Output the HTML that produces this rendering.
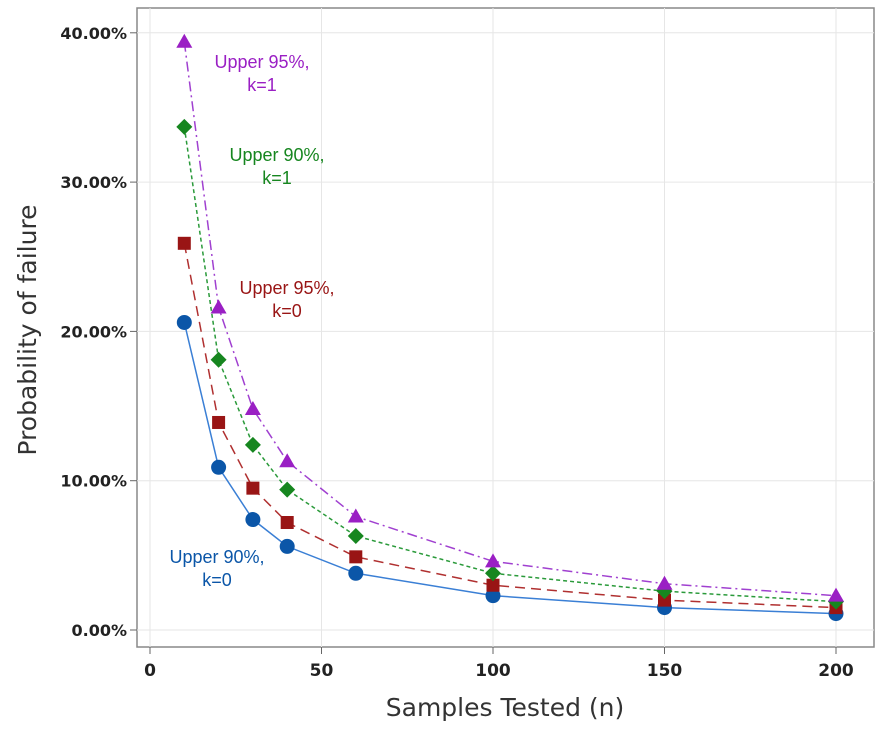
<!DOCTYPE html>
<html><head><meta charset="utf-8"><style>
body{margin:0;background:#fff;}
svg text{font-family:"DejaVu Sans","Liberation Sans",sans-serif;}
svg text.ann{font-family:"Liberation Sans",sans-serif;}
</style></head><body>
<svg id="c" width="891" height="731"></svg>
<script>
const xs=[10,20,30,40,60,100,150,200];
const s90k0=[20.6,10.9,7.4,5.6,3.8,2.3,1.5,1.1];
const s95k0=[25.9,13.9,9.5,7.2,4.9,3.0,2.0,1.5];
const s90k1=[33.7,18.1,12.4,9.4,6.3,3.8,2.6,1.9];
const s95k1=[39.4,21.6,14.8,11.3,7.6,4.6,3.1,2.3];
const xTicks=[0,50,100,150,200];
const yTicks=[0,10,20,30,40];
const yLabels=["0.00%","10.00%","20.00%","30.00%","40.00%"];
const svg=document.getElementById('c');const NS="http://www.w3.org/2000/svg";
const X=v=>150+v*3.43, Y=v=>630-v*14.93;
function el(t,a,p){const e=document.createElementNS(NS,t);for(const k in a)e.setAttribute(k,a[k]);(p||svg).appendChild(e);return e;}
const bg=el('rect',{x:137,y:8,width:737,height:639,fill:'#fff',stroke:'#888','stroke-width':1.5});

xTicks.forEach(t=>{el('line',{x1:X(t),x2:X(t),y1:8,y2:647,stroke:'#e6e6e6'});el('line',{x1:X(t),x2:X(t),y1:647,y2:654,stroke:'#666'});
 const tx=el('text',{x:X(t),y:676,'text-anchor':'middle','font-size':17,'font-weight':'bold',fill:'#222'});tx.textContent=t;
 });
yTicks.forEach((t,i)=>{el('line',{x1:137,x2:874,y1:Y(t),y2:Y(t),stroke:'#e6e6e6'});el('line',{x1:130,x2:137,y1:Y(t),y2:Y(t),stroke:'#666'});
 const tx=el('text',{x:127,y:Y(t)+6,'text-anchor':'end','font-size':16,'font-weight':'bold',fill:'#222'});tx.textContent=yLabels[i];
 });
const xt=el('text',{x:505,y:716,'text-anchor':'middle','font-size':25,fill:'#333'});xt.textContent='Samples Tested (n)';

const yt=el('text',{x:0,y:0,'text-anchor':'middle','font-size':25,fill:'#333',transform:'translate(36,330) rotate(-90)'});yt.textContent='Probability of failure';

function series(d,color,lc,dash,shape,name){
 const g=el('g',{});
 el('polyline',{points:xs.map((x,i)=>X(x)+','+Y(d[i])).join(' '),fill:'none',stroke:lc,'stroke-width':1.5,'stroke-dasharray':dash},g);
 xs.forEach((x,i)=>{const cx=X(x),cy=Y(d[i]);let m;
  if(shape=='c')m=el('circle',{cx,cy,r:7.5,fill:color},g);
  else if(shape=='s')m=el('rect',{x:cx-6.5,y:cy-6.5,width:13,height:13,fill:color},g);
  else if(shape=='d')m=el('polygon',{points:`${cx},${cy-8} ${cx+8},${cy} ${cx},${cy+8} ${cx-8},${cy}`,fill:color},g);
  else m=el('polygon',{points:`${cx},${cy-8} ${cx+8},${cy+6} ${cx-8},${cy+6}`,fill:color},g);
  });
}
series(s90k0,'#0b56a8','#3a7fd5','','c','series-upper90-k0');
series(s95k0,'#991515','#b03030','10,6','s','series-upper95-k0');
series(s90k1,'#16861f','#2a9a3a','4,3','d','series-upper90-k1');
series(s95k1,'#9a1fc4','#a040d0','10,4,2,4','t','series-upper95-k1');
function label(x,y,l1,l2,c,name){const t=el('text',{x,y,'text-anchor':'middle','font-size':18,fill:c,class:'ann'});
 
 const a=el('tspan',{x,dy:0},t);a.textContent=l1;const b=el('tspan',{x,dy:23},t);b.textContent=l2;}
label(262,68,'Upper 95%,','k=1','#9a1fc4','label-upper95-k1');
label(277,161,'Upper 90%,','k=1','#16861f','label-upper90-k1');
label(287,294,'Upper 95%,','k=0','#991515','label-upper95-k0');
label(217,563,'Upper 90%,','k=0','#0b56a8','label-upper90-k0');
</script>
</body></html>
